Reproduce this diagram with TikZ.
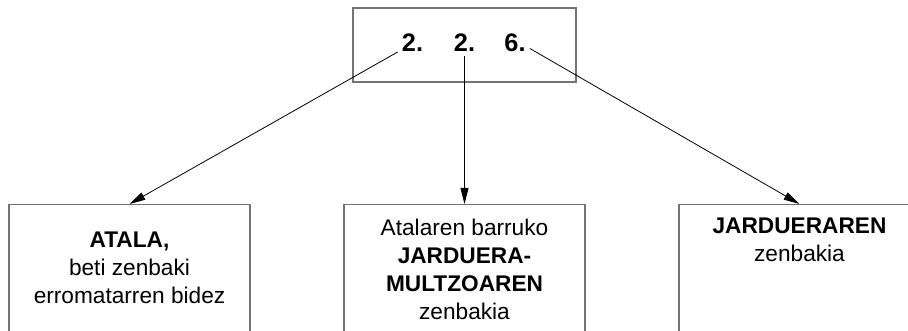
\documentclass[tikz,border=0pt]{standalone}
\usepackage{fontspec}
\setmainfont{Liberation Sans}
\usetikzlibrary{arrows.meta}

\begin{document}
\begin{tikzpicture}
        [x=0.75pt, y=-0.75pt,
         frame/.style={
             draw=black!55,
             line width=1pt,
             minimum width=180.75pt,
             minimum height=150pt,
             anchor=north
         },
         digit/.style={
             font=\fontsize{19}{23}\selectfont\bfseries,
             anchor=base,
             inner sep=3pt
         },
         caption/.style={
             font=\fontsize{17}{21}\selectfont,
             align=center,
             anchor=north,
             inner sep=0pt
         },
         link/.style={
             -{Triangle[length=12pt, width=6pt]},
             line width=0.6pt
         }
         ]
        \useasboundingbox (0,0) rectangle (908,331);
        \clip (0,0) rectangle (908,331);
        % number box
        \node[draw=black!55, line width=1pt, minimum width=167.25pt,
              minimum height=55.5pt] (code) at (464.5,45) {};
        \node[digit] (atal) at (412.5,52) {2.};
        \node[digit] (multzo) at (464.5,52) {2.};
        \node[digit] (jard) at (515,52) {6.};
        % lower boxes, cut by the frame
        \node[frame] (atala) at (129.5,204) {};
        \node[frame] (multzoa) at (464.5,204) {};
        \node[frame] (jarduera) at (799.5,204) {};
        \node[caption] (atalatxt) at (129.5,232)
            {\textbf{ATALA,}\\beti zenbaki\\erromatarren bidez};
        \node[caption] (multzotxt) at (464.5,219)
            {Atalaren barruko\\\textbf{JARDUERA-}\\\textbf{MULTZOAREN}\\zenbakia};
        \node[caption] (jardtxt) at (799.5,218)
            {\textbf{JARDUERAREN}\\zenbakia};
        \draw[link] (atal.base west) -- (atala.north);
        \draw[link] (multzo.south) -- (multzoa.north);
        \draw[link] (jard.mid east) -- (jarduera.north);
    \end{tikzpicture}
\end{document}
